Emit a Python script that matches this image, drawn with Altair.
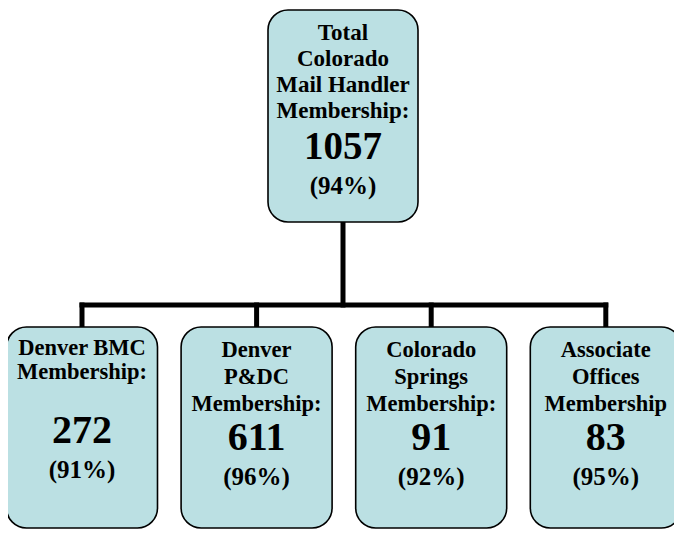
import altair as alt
import pandas as pd

# ---- data ----
top_lines = ["Total", "Colorado", "Mail Handler", "Membership:"]
top_count = [1057]
top_pct = [94]
child_lines = [
    ["Denver BMC", "Membership:"],
    ["Denver", "P&DC", "Membership:"],
    ["Colorado", "Springs", "Membership:"],
    ["Associate", "Offices", "Membership"],
]
child_counts = [272, 611, 91, 83]
child_pcts = [91, 96, 92, 95]

# ---- layout (pixel space of the page) ----
W, H, OFF = 666, 524, 8
TOP_CX, TOP_W, TOP_Y0, TOP_Y1 = 343, 150, 10, 222
CH_CX0, CH_DX, CH_W, CH_Y0, CH_Y1 = 82, 174.6, 151, 327, 528
BAR_Y = 305
FILL = "#BBE0E3"
FONT = "'Times New Roman', 'Liberation Serif', Times, serif"

boxes, links, texts = [], [], []
boxes.append(dict(x=TOP_CX - TOP_W / 2, x2=TOP_CX + TOP_W / 2, y=TOP_Y0, y2=TOP_Y1))
for i, ln in enumerate(top_lines):
    texts.append(dict(x=TOP_CX, y=33 + i * 26, t=ln, fs=23))
texts.append(dict(x=TOP_CX, y=146.5, t=str(top_count[0]), fs=39))
texts.append(dict(x=TOP_CX, y=186, t=f"({top_pct[0]}%)", fs=25))

centers = [CH_CX0 + i * CH_DX for i in range(len(child_counts))]
for cx, lines, cnt, pct in zip(centers, child_lines, child_counts, child_pcts):
    boxes.append(dict(x=cx - CH_W / 2, x2=cx + CH_W / 2, y=CH_Y0, y2=CH_Y1))
    if len(lines) == 2:
        y0, gap, ny = 348, 24, 431
    else:
        y0, gap, ny = 350, 27, 438
    for j, ln in enumerate(lines):
        texts.append(dict(x=cx, y=y0 + j * gap, t=ln, fs=22.5))
    texts.append(dict(x=cx, y=ny, t=str(cnt), fs=40))
    texts.append(dict(x=cx, y=ny + 39, t=f"({pct}%)", fs=25))
    links.append(dict(x=cx, x2=cx, y=BAR_Y, y2=CH_Y0))

links.append(dict(x=TOP_CX, x2=TOP_CX, y=TOP_Y1, y2=BAR_Y))
links.append(dict(x=centers[0], x2=centers[-1], y=BAR_Y, y2=BAR_Y))

xs = alt.Scale(domain=[OFF, OFF + W], nice=False, zero=False)
ys = alt.Scale(domain=[OFF, OFF + H], nice=False, zero=False, reverse=True)

link_layer = alt.Chart(pd.DataFrame(links)).mark_rule(
    color="black", strokeWidth=5, strokeCap="square"
).encode(
    x=alt.X("x:Q", scale=xs, axis=None),
    x2="x2:Q",
    y=alt.Y("y:Q", scale=ys, axis=None),
    y2="y2:Q",
)

box_layer = alt.Chart(pd.DataFrame(boxes)).mark_rect(
    cornerRadius=20, fill=FILL, stroke="black", strokeWidth=1.6
).encode(
    x=alt.X("x:Q", scale=xs, axis=None),
    x2="x2:Q",
    y=alt.Y("y:Q", scale=ys, axis=None),
    y2="y2:Q",
)

text_layer = alt.Chart(pd.DataFrame(texts)).mark_text(
    font=FONT, fontWeight="bold", color="black",
    align="center", baseline="middle"
).encode(
    x=alt.X("x:Q", scale=xs, axis=None),
    y=alt.Y("y:Q", scale=ys, axis=None),
    text="t:N",
    size=alt.Size("fs:Q", scale=None, legend=None),
)

chart = alt.layer(link_layer, box_layer, text_layer).properties(
    width=W, height=H, padding=0, autosize=alt.AutoSizeParams(type="none"),
    background="white",
).configure_view(stroke=None)

chart.save("out.html", embed_options={"renderer": "svg", "actions": False})
